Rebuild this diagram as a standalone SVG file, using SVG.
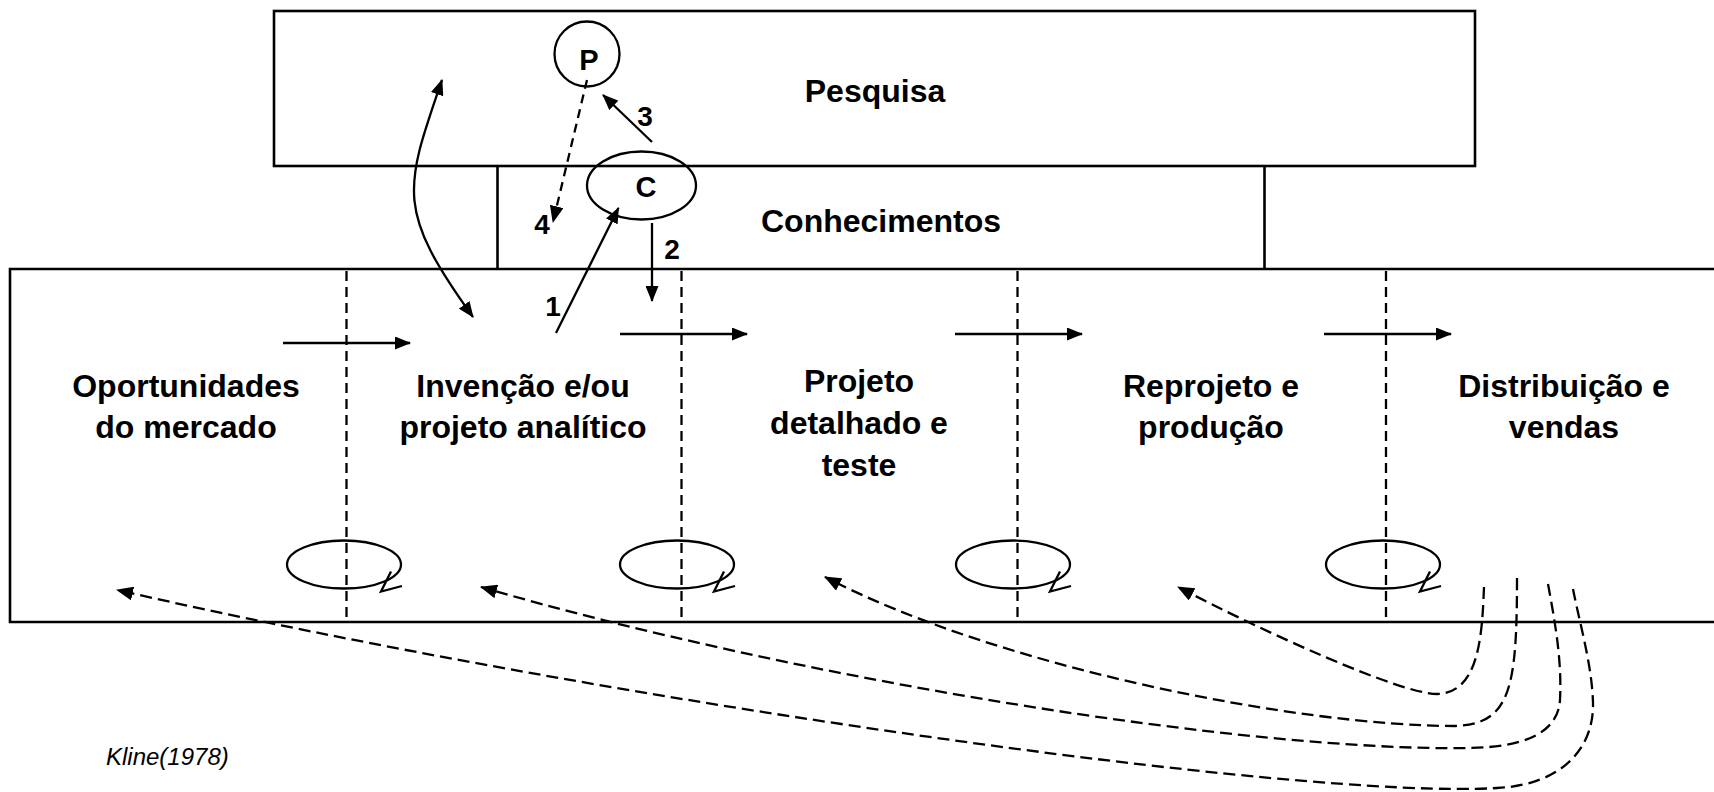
<svg xmlns="http://www.w3.org/2000/svg" width="1714" height="792" viewBox="0 0 1714 792">
<style>
.box{fill:none;stroke:#000;stroke-width:2.6}
.sep{fill:none;stroke:#000;stroke-width:2.3;stroke-dasharray:10 6}
.loop{fill:none;stroke:#000;stroke-width:2.3}
.ln{fill:none;stroke:#000;stroke-width:2.3}
.dash{fill:none;stroke:#000;stroke-width:2.3;stroke-dasharray:12 6}
.lbl{font-family:"Liberation Sans",Arial,sans-serif;font-weight:bold;font-size:32px;text-anchor:middle;fill:#000}
.num{font-family:"Liberation Sans",Arial,sans-serif;font-weight:bold;font-size:28px;text-anchor:middle;fill:#000}
.cite{font-family:"Liberation Sans",Arial,sans-serif;font-style:italic;font-size:24px;fill:#000}
</style>
<defs>
<marker id="ah" viewBox="0 0 16 13" refX="15" refY="6.5" markerWidth="16" markerHeight="13" markerUnits="userSpaceOnUse" orient="auto-start-reverse"><path d="M0,0 L16,6.5 L0,13 z" fill="#000"/></marker>
<marker id="ahd" viewBox="0 0 17 14" refX="16" refY="7" markerWidth="17" markerHeight="14" markerUnits="userSpaceOnUse" orient="auto"><path d="M0,0 L17,7 L0,14 z" fill="#000"/></marker>
</defs>
<rect x="0" y="0" width="1714" height="792" fill="#fff"/>

<g id="pesquisa">
<rect class="box" x="274" y="11" width="1201" height="155"/>
<text class="lbl" x="875" y="102">Pesquisa</text>
</g>

<g id="conhecimentos">
<line class="box" x1="497.5" y1="166" x2="497.5" y2="269"/>
<line class="box" x1="1264.5" y1="166" x2="1264.5" y2="269"/>
<text class="lbl" x="881" y="232">Conhecimentos</text>
</g>

<g id="cadeia">
<path class="box" d="M1720,269 H10 V622 H1720"/>
<line class="sep" x1="346.5" y1="271" x2="346.5" y2="620"/>
<line class="sep" x1="681.5" y1="271" x2="681.5" y2="620"/>
<line class="sep" x1="1017.5" y1="271" x2="1017.5" y2="620"/>
<line class="sep" x1="1386" y1="271" x2="1386" y2="620"/>
</g>

<g id="oportunidades">
<text class="lbl" x="186" y="397">Oportunidades</text>
<text class="lbl" x="186" y="438">do mercado</text>
<ellipse class="loop" cx="344" cy="564.5" rx="57" ry="24"/>
<polyline class="loop" points="391,571.5 381,591.5 402,586"/>
</g>

<g id="invencao">
<text class="lbl" x="523" y="397">Invenção e/ou</text>
<text class="lbl" x="523" y="438">projeto analítico</text>
<ellipse class="loop" cx="677" cy="564.5" rx="57" ry="24"/>
<polyline class="loop" points="724,571.5 714,591.5 735,586"/>
</g>

<g id="projeto">
<text class="lbl" x="859" y="392">Projeto</text>
<text class="lbl" x="859" y="434">detalhado e</text>
<text class="lbl" x="859" y="476">teste</text>
<ellipse class="loop" cx="1013" cy="564.5" rx="57" ry="24"/>
<polyline class="loop" points="1060,571.5 1050,591.5 1071,586"/>
</g>

<g id="reprojeto">
<text class="lbl" x="1211" y="397">Reprojeto e</text>
<text class="lbl" x="1211" y="438">produção</text>
<ellipse class="loop" cx="1383" cy="564.5" rx="57" ry="24"/>
<polyline class="loop" points="1430,571.5 1420,591.5 1441,586"/>
</g>

<g id="distribuicao">
<text class="lbl" x="1564" y="397">Distribuição e</text>
<text class="lbl" x="1564" y="438">vendas</text>
</g>

<g id="P">
<circle class="loop" cx="587" cy="54" r="32.5"/>
<text class="num" x="589" y="70" style="font-size:29px">P</text>
</g>

<g id="C">
<ellipse class="loop" cx="641.5" cy="185.5" rx="54.5" ry="34"/>
<text class="num" x="646" y="197" style="font-size:29px">C</text>
</g>

<g id="connectors">
<line class="ln" x1="283" y1="343" x2="410" y2="343" marker-end="url(#ah)"/>
<line class="ln" x1="620" y1="334" x2="747" y2="334" marker-end="url(#ah)"/>
<line class="ln" x1="955" y1="334" x2="1082" y2="334" marker-end="url(#ah)"/>
<line class="ln" x1="1324" y1="334" x2="1451" y2="334" marker-end="url(#ah)"/>
<path class="ln" d="M442,80 C404,190 396,210 473,317" marker-start="url(#ah)" marker-end="url(#ah)"/>
<line class="ln" x1="556" y1="333" x2="618.5" y2="208" marker-end="url(#ah)"/>
<line class="ln" x1="652" y1="223" x2="652" y2="301" marker-end="url(#ah)"/>
<line class="ln" x1="652" y1="142" x2="603" y2="95" marker-end="url(#ah)"/>
<line class="dash" x1="587" y1="80" x2="553" y2="222" marker-end="url(#ahd)" style="stroke-dasharray:9 6"/>
<path class="dash" d="M1484,587 C1482,640 1478,693 1437,694 C1400,694 1260,630 1178,587" marker-end="url(#ahd)"/>
<path class="dash" d="M1517,578 C1517,690 1510,724 1455,726 C1300,726 1000,668 825,577" marker-end="url(#ahd)"/>
<path class="dash" d="M1548,584 C1555,622 1562,660 1560,700 C1558,735 1520,747 1470,748 C1250,752 800,680 481,587" marker-end="url(#ahd)"/>
<path class="dash" d="M1573,589 C1580,625 1592,665 1593,703 C1594,750 1560,785 1497,788 C1300,800 600,700 117,590" marker-end="url(#ahd)"/>
<text class="num" x="553" y="316">1</text>
<text class="num" x="672" y="259">2</text>
<text class="num" x="645" y="126">3</text>
<text class="num" x="542" y="234">4</text>
</g>

<text class="cite" x="106" y="765">Kline(1978)</text>
</svg>
